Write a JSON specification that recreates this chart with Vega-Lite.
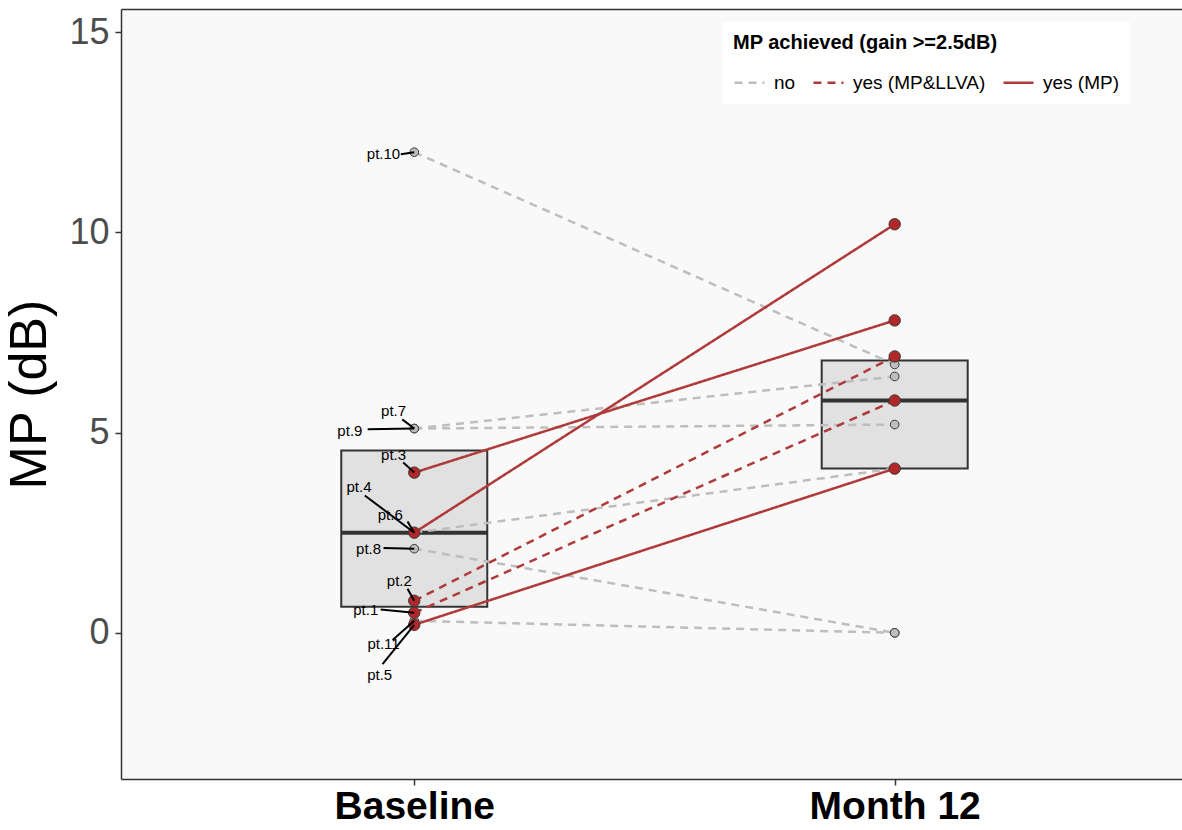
{
  "$schema": "https://vega.github.io/schema/vega-lite/v6.json",
  "width": 1061,
  "height": 770,
  "autosize": {"type": "none"},
  "padding": {"left": 121, "top": 9, "right": 0, "bottom": 51},
  "background": "white",
  "config": {
    "font": "Liberation Sans",
    "view": {"stroke": null, "fill": "#F9F9F9"}
  },
  "datasets": {
    "lines": [
      {"pt": "pt.10", "t": 1, "mp": 12.0, "group": "no"},
      {"pt": "pt.10", "t": 2, "mp": 6.7, "group": "no"},
      {"pt": "pt.7", "t": 1, "mp": 5.1, "group": "no"},
      {"pt": "pt.7", "t": 2, "mp": 6.4, "group": "no"},
      {"pt": "pt.9", "t": 1, "mp": 5.1, "group": "no"},
      {"pt": "pt.9", "t": 2, "mp": 5.2, "group": "no"},
      {"pt": "pt.6", "t": 1, "mp": 2.5, "group": "no"},
      {"pt": "pt.6", "t": 2, "mp": 4.1, "group": "no"},
      {"pt": "pt.8", "t": 1, "mp": 2.1, "group": "no"},
      {"pt": "pt.8", "t": 2, "mp": 0.0, "group": "no"},
      {"pt": "pt.11", "t": 1, "mp": 0.3, "group": "no"},
      {"pt": "pt.11", "t": 2, "mp": 0.0, "group": "no"},
      {"pt": "pt.2", "t": 1, "mp": 0.8, "group": "yes (MP&LLVA)"},
      {"pt": "pt.2", "t": 2, "mp": 6.9, "group": "yes (MP&LLVA)"},
      {"pt": "pt.1", "t": 1, "mp": 0.5, "group": "yes (MP&LLVA)"},
      {"pt": "pt.1", "t": 2, "mp": 5.8, "group": "yes (MP&LLVA)"},
      {"pt": "pt.3", "t": 1, "mp": 4.0, "group": "yes (MP)"},
      {"pt": "pt.3", "t": 2, "mp": 7.8, "group": "yes (MP)"},
      {"pt": "pt.4", "t": 1, "mp": 2.5, "group": "yes (MP)"},
      {"pt": "pt.4", "t": 2, "mp": 10.2, "group": "yes (MP)"},
      {"pt": "pt.5", "t": 1, "mp": 0.2, "group": "yes (MP)"},
      {"pt": "pt.5", "t": 2, "mp": 4.1, "group": "yes (MP)"}
    ],
    "box": [
      {"t": 1, "q1": 0.65, "med": 2.5, "q3": 4.55},
      {"t": 2, "q1": 4.1, "med": 5.8, "q3": 6.8}
    ],
    "labels": [
      {"pt": "pt.10", "lx": 0.936, "ly": 11.95, "sx": 0.972, "sy": 11.95, "px": 1, "py": 12.0},
      {"pt": "pt.7", "lx": 0.957, "ly": 5.55, "sx": 0.975, "sy": 5.33, "px": 1, "py": 5.1},
      {"pt": "pt.9", "lx": 0.866, "ly": 5.05, "sx": 0.903, "sy": 5.08, "px": 1, "py": 5.1},
      {"pt": "pt.3", "lx": 0.957, "ly": 4.45, "sx": 0.977, "sy": 4.25, "px": 1, "py": 4.0},
      {"pt": "pt.4", "lx": 0.885, "ly": 3.65, "sx": 0.897, "sy": 3.43, "px": 1, "py": 2.5},
      {"pt": "pt.6", "lx": 0.95, "ly": 2.93, "sx": 0.986, "sy": 2.78, "px": 1, "py": 2.5},
      {"pt": "pt.8", "lx": 0.905, "ly": 2.1, "sx": 0.936, "sy": 2.12, "px": 1, "py": 2.1},
      {"pt": "pt.2", "lx": 0.969, "ly": 1.3, "sx": 0.986, "sy": 1.1, "px": 1, "py": 0.8},
      {"pt": "pt.1", "lx": 0.899, "ly": 0.57, "sx": 0.93, "sy": 0.58, "px": 1, "py": 0.5},
      {"pt": "pt.11", "lx": 0.936, "ly": -0.27, "sx": 0.955, "sy": -0.18, "px": 1, "py": 0.3},
      {"pt": "pt.5", "lx": 0.928, "ly": -1.05, "sx": 0.934, "sy": -0.78, "px": 1, "py": 0.2}
    ]
  },
  "resolve": {"axis": {"x": "independent"}},
  "layer": [
    {
      "data": {"name": "box"},
      "mark": {"type": "bar", "width": 146, "fill": "#E1E1E1", "stroke": "#333333", "strokeWidth": 2},
      "encoding": {
        "x": {
          "field": "t", "type": "quantitative",
          "scale": {"domain": [0.4, 2.5876], "nice": false, "zero": false},
          "axis": {
            "orient": "bottom", "title": null, "values": [1, 2],
            "labelExpr": "datum.value == 1 ? 'Baseline' : 'Month 12'",
            "labelFontSize": 39, "labelFontWeight": "bold", "labelColor": "black",
            "labelPadding": 2, "tickSize": 6, "tickColor": "#333333", "tickWidth": 1.5,
            "domainColor": "#333333", "domainWidth": 1.5, "grid": false, "labelFlush": false
          }
        },
        "y": {
          "field": "q1", "type": "quantitative",
          "scale": {"domain": [-3.65, 15.575], "nice": false, "zero": false},
          "axis": {
            "title": "MP (dB)", "values": [0, 5, 10, 15],
            "labelFontSize": 36, "labelColor": "#4D4D4D", "labelPadding": 6,
            "tickSize": 6, "tickColor": "#333333", "tickWidth": 1.5,
            "domainColor": "#333333", "domainWidth": 1.5, "grid": false,
            "titleFontSize": 52, "titleFontWeight": "normal", "titleColor": "black", "titlePadding": 12
          }
        },
        "y2": {"field": "q3"}
      }
    },
    {
      "data": {"name": "box"},
      "mark": {"type": "tick", "orient": "horizontal", "size": 146, "thickness": 4, "color": "#333333", "opacity": 1},
      "encoding": {
        "x": {
          "field": "t", "type": "quantitative",
          "axis": {"orient": "top", "title": null, "labels": false, "ticks": false, "grid": false, "domainColor": "#333333", "domainWidth": 1.5}
        },
        "y": {"field": "med", "type": "quantitative"}
      }
    },
    {
      "data": {"name": "lines"},
      "mark": {"type": "line", "strokeWidth": 2.5},
      "encoding": {
        "x": {"field": "t", "type": "quantitative", "axis": null},
        "y": {"field": "mp", "type": "quantitative"},
        "detail": {"field": "pt"},
        "color": {
          "field": "group", "type": "nominal",
          "scale": {"domain": ["no", "yes (MP&LLVA)", "yes (MP)"], "range": ["#BEBEBE", "#B03A3A", "#B03A3A"]},
          "legend": {
            "title": "MP achieved (gain >=2.5dB)",
            "orient": "none", "legendX": 601, "legendY": 13,
            "direction": "horizontal", "columns": 3,
            "fillColor": "white", "padding": 11,
            "titleFontSize": 20, "titleFontWeight": "bold", "titleColor": "black", "titlePadding": 13, "titleLimit": 500,
            "labelFontSize": 19, "labelColor": "black", "labelOffset": 8, "labelLimit": 300,
            "symbolType": "stroke", "symbolSize": 900, "symbolStrokeWidth": 2.5,
            "columnPadding": 12
          }
        },
        "strokeDash": {
          "field": "group", "type": "nominal",
          "scale": {"domain": ["no", "yes (MP&LLVA)", "yes (MP)"], "range": [[8, 6], [8, 6], [1, 0]]},
          "legend": {
            "title": "MP achieved (gain >=2.5dB)",
            "orient": "none", "legendX": 601, "legendY": 13,
            "direction": "horizontal", "columns": 3,
            "fillColor": "white", "padding": 11,
            "titleFontSize": 20, "titleFontWeight": "bold", "titleColor": "black", "titlePadding": 13, "titleLimit": 500,
            "labelFontSize": 19, "labelColor": "black", "labelOffset": 8, "labelLimit": 300,
            "symbolType": "stroke", "symbolSize": 900, "symbolStrokeWidth": 2.5,
            "columnPadding": 12
          }
        }
      }
    },
    {
      "data": {"name": "lines"},
      "mark": {"type": "point", "filled": true, "stroke": "#3A3A3A", "strokeWidth": 1, "opacity": 1},
      "encoding": {
        "x": {"field": "t", "type": "quantitative", "axis": null},
        "y": {"field": "mp", "type": "quantitative"},
        "fill": {"condition": {"test": "datum.group == 'no'", "value": "#BEBEBE"}, "value": "#B22828"},
        "size": {"condition": {"test": "datum.group == 'no'", "value": 75}, "value": 130},
        "order": {"field": "group", "sort": "ascending"}
      }
    },
    {
      "data": {"name": "labels"},
      "mark": {"type": "rule", "color": "black", "strokeWidth": 2},
      "encoding": {
        "x": {"field": "sx", "type": "quantitative", "axis": null},
        "y": {"field": "sy", "type": "quantitative"},
        "x2": {"field": "px"},
        "y2": {"field": "py"}
      }
    },
    {
      "data": {"name": "labels"},
      "mark": {"type": "text", "fontSize": 15, "color": "black", "align": "center", "baseline": "middle"},
      "encoding": {
        "x": {"field": "lx", "type": "quantitative", "axis": null},
        "y": {"field": "ly", "type": "quantitative"},
        "text": {"field": "pt"}
      }
    }
  ]
}
